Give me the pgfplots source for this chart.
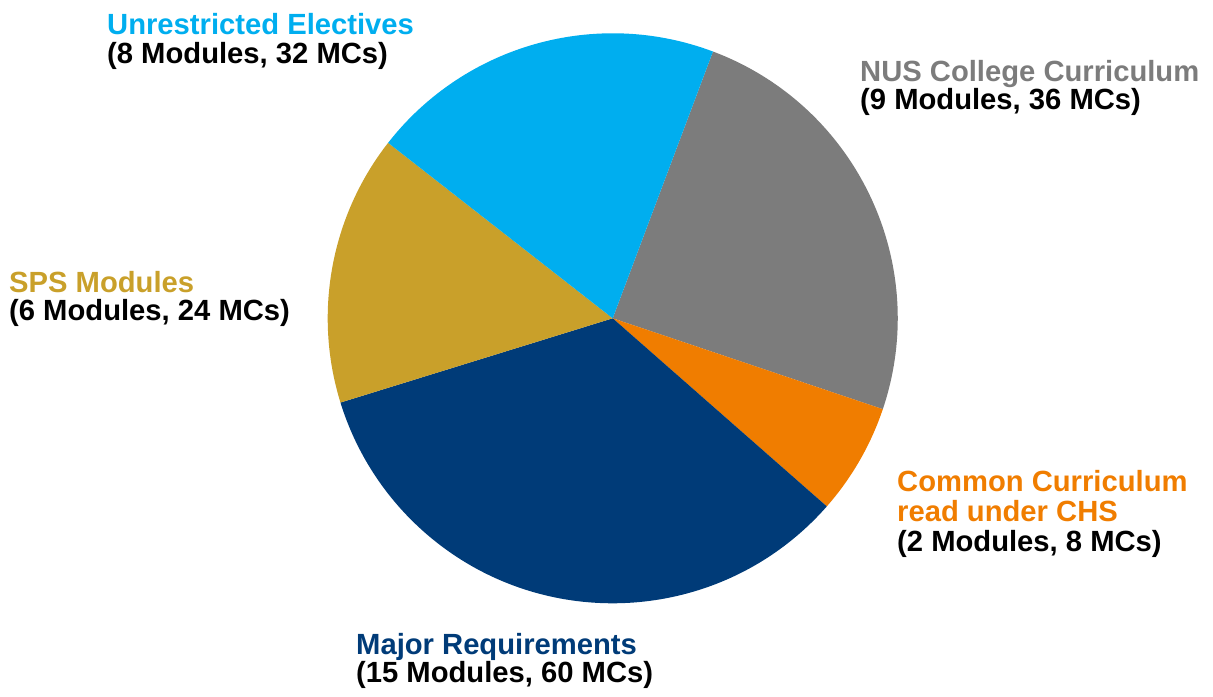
\documentclass[border=0pt]{standalone}
\usepackage{fontspec}
\setmainfont{Liberation Sans}
\usepackage{xcolor}
\usepackage{pgfplots}
\usepackage{pgfplotstable}
\pgfplotsset{compat=1.18}

\definecolor{nusgray}{RGB}{124,124,124}
\definecolor{ccorange}{RGB}{240,125,0}
\definecolor{majornavy}{RGB}{0,59,120}
\definecolor{spsgold}{RGB}{201,160,42}
\definecolor{ueblue}{RGB}{0,174,239}

% slice angles (degrees), drawn clockwise from the top-right boundary
\pgfplotstableread{
name  start   end     col
NUS   69.4   -18.6    nusgray
CC   -18.6   -41.3    ccorange
Major -41.3  -162.8   majornavy
SPS  -162.8  -218.0   spsgold
UE   -218.0  -290.6   ueblue
}\slices

\newcommand{\lab}{\fontsize{29.2bp}{30bp}\selectfont\bfseries}

\begin{document}
\begin{tikzpicture}
\begin{axis}[x=1bp, y=1bp, xmin=0, xmax=1213, ymin=0, ymax=697,
  hide axis, clip=false]
\path (axis cs:0,0) rectangle (axis cs:1213,697);
\pgfplotsinvokeforeach{0,...,4}{
  \pgfplotstablegetelem{#1}{start}\of\slices \let\sa\pgfplotsretval
  \pgfplotstablegetelem{#1}{end}\of\slices \let\ea\pgfplotsretval
  \pgfplotstablegetelem{#1}{col}\of\slices \let\sc\pgfplotsretval
  \edef\wedge{\noexpand\fill[\sc] (axis cs:612.7,378.7) -- ++(\sa:285bp)
    arc[start angle=\sa, end angle=\ea, radius=285bp] -- cycle;}
  \wedge
}
\begin{scope}[every node/.style={anchor=base west, inner sep=0pt, font=\lab}]
\node[text=ueblue] at (axis cs:107,662) {Unrestricted Electives};
\node at (axis cs:107,633.5) {(8 Modules, 32 MCs)};
\node[text=nusgray] at (axis cs:860,615.3) {NUS College Curriculum};
\node at (axis cs:860,587) {(9 Modules, 36 MCs)};
\node[text=spsgold] at (axis cs:9,404) {SPS Modules};
\node at (axis cs:9,376) {(6 Modules, 24 MCs)};
\node[text=ccorange] at (axis cs:897,205.3) {Common Curriculum};
\node[text=ccorange] at (axis cs:897,175.3) {read under CHS};
\node at (axis cs:897,145.3) {(2 Modules, 8 MCs)};
\node[text=majornavy] at (axis cs:356,42) {Major Requirements};
\node at (axis cs:356,14) {(15 Modules, 60 MCs)};
\end{scope}
\end{axis}
\end{tikzpicture}
\end{document}
